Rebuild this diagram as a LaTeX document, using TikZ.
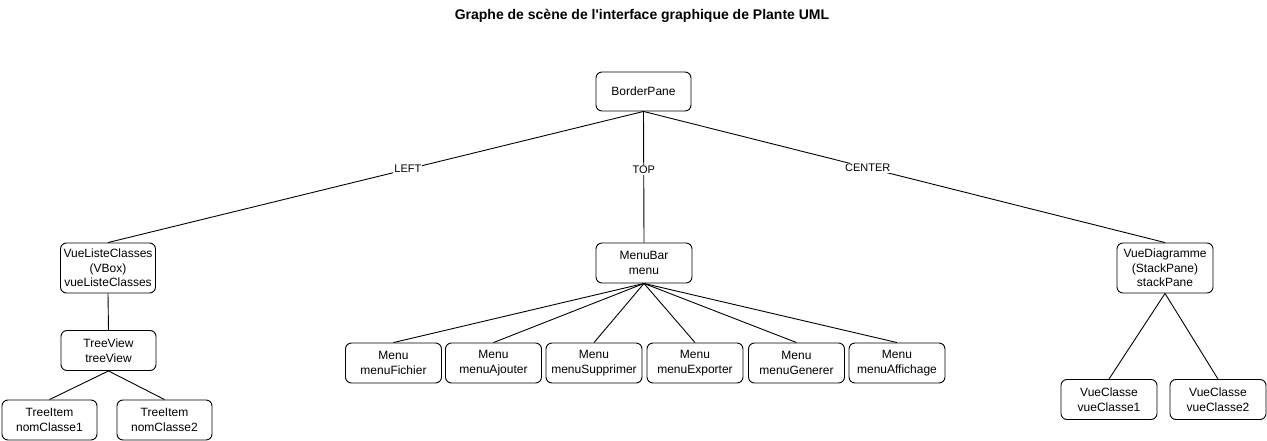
\documentclass[tikz,border=0pt]{standalone}
\usepackage{fontspec}
\setmainfont{Liberation Sans}
\begin{document}
\begin{tikzpicture}[x=1pt,y=-1pt,
  box/.style={draw, rounded corners=6pt, line width=0.9pt, minimum width=95pt, align=center, inner sep=0pt, font=\fontsize{12}{14.5}\selectfont},
  box2/.style={box, minimum height=40pt},
  box3/.style={box, minimum height=50pt},
  mbox/.style={box2, minimum width=96pt},
  conn/.style={line width=0.9pt},
  lbl/.style={fill=white, inner sep=1pt, font=\fontsize{11}{13}\selectfont}]
\useasboundingbox (0,0) rectangle (1267,441);

\node[font=\bfseries\fontsize{14}{16}\selectfont] (title) at (642,16) {Graphe de scène de l\textquotesingle interface graphique de Plante UML};

\node[box, minimum height=39pt] (bp) at (643.5,91.5) {BorderPane};

\node[box3] (vlc) at (108,268) {VueListeClasses\\(VBox)\\vueListeClasses};
\node[box2] (tv) at (108.5,350.5) {TreeView\\treeView};
\node[box2] (ti1) at (49.5,420) {TreeItem\\nomClasse1};
\node[box2] (ti2) at (164.5,420) {TreeItem\\nomClasse2};

\node[box2, minimum width=96pt] (mb) at (644,263) {MenuBar\\menu};
\node[mbox] (m1) at (393.5,363) {Menu\\menuFichier};
\node[mbox] (m2) at (493.5,363) {Menu\\menuAjouter};
\node[mbox] (m3) at (594,363) {Menu\\menuSupprimer};
\node[mbox] (m4) at (695,363) {Menu\\menuExporter};
\node[mbox] (m5) at (796.5,363) {Menu\\menuGenerer};
\node[mbox] (m6) at (897,363) {Menu\\menuAffichage};

\node[box3, minimum width=96pt] (vd) at (1165,268) {VueDiagramme\\(StackPane)\\stackPane};
\node[box2, minimum width=96pt] (vc1) at (1109,399.5) {VueClasse\\vueClasse1};
\node[box2, minimum width=96pt] (vc2) at (1218,399.5) {VueClasse\\vueClasse2};

\draw[conn] (bp.south) -- node[lbl, pos=0.44] {LEFT} (vlc.north);
\draw[conn] (bp.south) -- node[lbl, pos=0.447] {TOP} (mb.north);
\draw[conn] (bp.south) -- node[lbl, pos=0.43] {CENTER} (vd.north);

\draw[conn] (vlc.south) -- (tv.north);
\draw[conn] (tv.south) -- (ti1.north);
\draw[conn] (tv.south) -- (ti2.north);

\foreach \m in {m1,m2,m3,m4,m5,m6} {\draw[conn] (mb.south) -- (\m.north);}

\draw[conn] (vd.south) -- (vc1.north);
\draw[conn] (vd.south) -- (vc2.north);
\end{tikzpicture}
\end{document}
